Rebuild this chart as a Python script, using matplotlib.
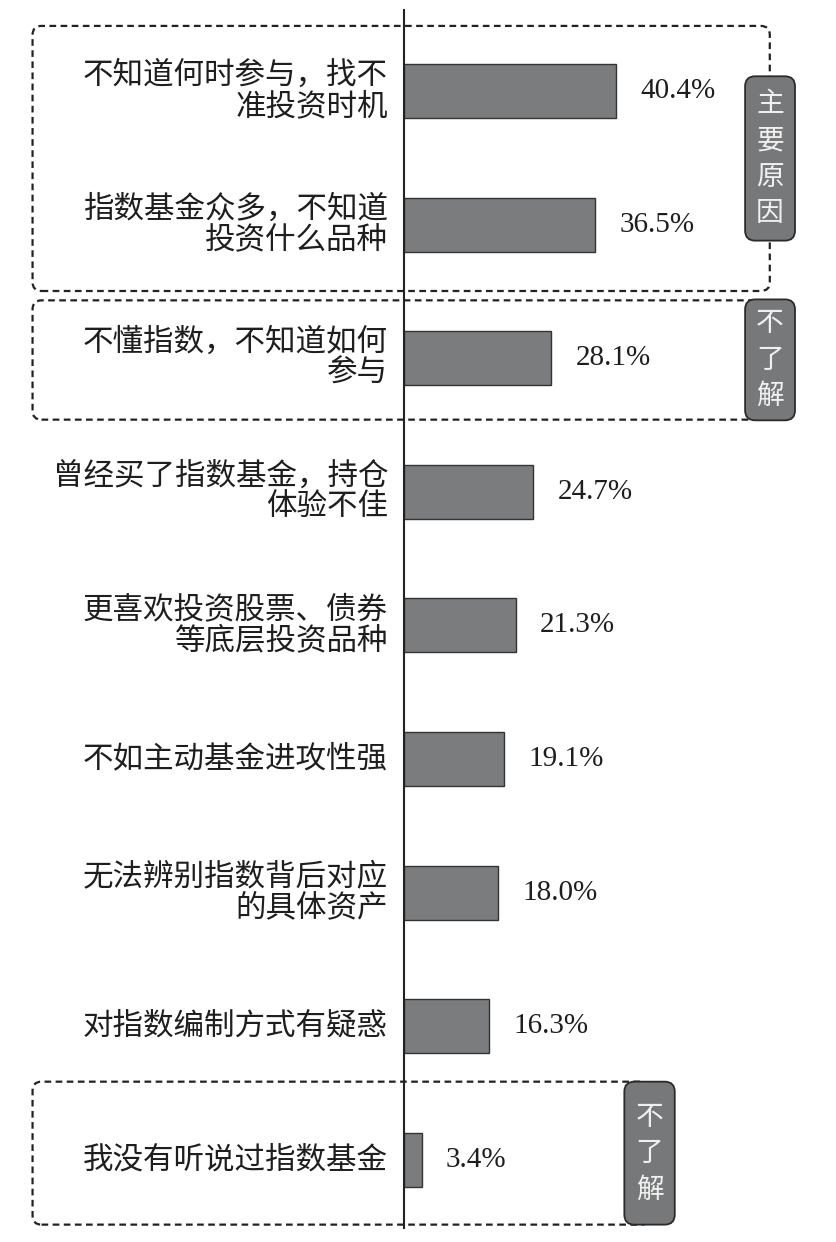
import matplotlib.pyplot as plt
from matplotlib.patches import FancyBboxPatch

# 数据
labels = [
    "不知道何时参与，找不\n准投资时机",
    "指数基金众多，不知道\n投资什么品种",
    "不懂指数，不知道如何\n参与",
    "曾经买了指数基金，持仓\n体验不佳",
    "更喜欢投资股票、债券\n等底层投资品种",
    "不如主动基金进攻性强",
    "无法辨别指数背后对应\n的具体资产",
    "对指数编制方式有疑惑",
    "我没有听说过指数基金",
]
values = [40.4, 36.5, 28.1, 24.7, 21.3, 19.1, 18.0, 16.3, 3.4]

# 分组标注：(起始序号, 结束序号, 标签文字)
groups = [(0, 1, "主要原因"), (2, 2, "不了解"), (8, 8, "不了解")]

cjk = ['Noto Sans CJK SC', 'DejaVu Sans']
bar_color = '#7b7c7e'

fig = plt.figure(figsize=(8.37, 12.42), dpi=100)
ax = fig.add_axes([0, 0, 1, 1])
ax.set_xlim(-76.9, 82.5)
ax.set_ylim(8.615, -0.681)
ax.axis('off')

ypos = list(range(len(values)))
ax.barh(ypos, values, height=0.405, color=bar_color, edgecolor='#333333',
        linewidth=1.0, zorder=3)

# 纵轴线
ax.plot([0, 0], [-0.606, 8.51], color='#222222', linewidth=1.5, zorder=4)

for y, lab, v in zip(ypos, labels, values):
    ax.text(-3.0, y, lab, ha='right', va='center', fontsize=22,
            family=cjk, color='#1e1e1e', linespacing=1.0, multialignment='right')
    ax.text(v + 4.6, y, f"{v:.1f}%", ha='left', va='center', fontsize=21,
            family='Liberation Serif', color='#1e1e1e')

fig.canvas.draw()


def to_px(x, y):
    return ax.transData.transform((x, y))


# 虚线框与标签 (x 方向用数据单位，y 方向用类别序号的偏移)
box_specs = [
    # 框左, 框右, 上边距, 下边距, 标签左, 标签右, 标签上偏移, 标签下偏移
    (-70.7, 69.7, 0.487, 0.497, 65.0, 74.5, -0.11, 0.12),
    (-70.7, 69.7, 0.433, 0.46, 65.0, 74.5, -0.44, 0.465),
    (-70.7, 47.0, 0.585, 0.485, 42.0, 51.6, -0.585, 0.485),
]

for (i0, i1, tag), (bx0, bx1, pt, pb, tx0, tx1, tt, tb) in zip(groups, box_specs):
    x0, y0 = to_px(bx0, i1 + pb)
    x1, y1 = to_px(bx1, i0 - pt)
    box = FancyBboxPatch((x0, y0), x1 - x0, y1 - y0,
                         boxstyle="round,pad=0,rounding_size=9",
                         transform=None, fill=False, edgecolor='#222222',
                         linewidth=1.6, linestyle=(0, (3, 2)), zorder=2)
    fig.patches.append(box)

    gx0, gy0 = to_px(tx0, i1 + tb)
    gx1, gy1 = to_px(tx1, i0 + tt)
    tag_box = FancyBboxPatch((gx0, gy0), gx1 - gx0, gy1 - gy0,
                             boxstyle="round,pad=0,rounding_size=10",
                             transform=None, facecolor='#77787a',
                             edgecolor='#2a2a2a', linewidth=1.3, zorder=5)
    fig.patches.append(tag_box)
    fig.text((gx0 + gx1) / 2 / fig.bbox.width, (gy0 + gy1) / 2 / fig.bbox.height,
             "\n".join(tag), ha='center', va='center', fontsize=20,
             family=cjk, color='#f0f0f0', linespacing=1.28, zorder=6)

fig.savefig('out.png', dpi=100)
